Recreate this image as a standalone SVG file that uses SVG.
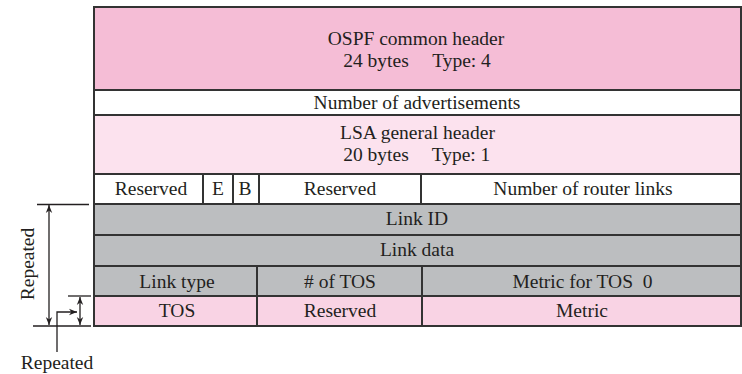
<svg xmlns="http://www.w3.org/2000/svg" width="742" height="374" viewBox="0 0 742 374">
<style>
text{font-family:"Liberation Serif","Times New Roman",serif;font-size:19.5px;fill:#231f20;text-anchor:middle}
.cell{stroke:#333;stroke-width:2}
.ln{stroke:#231f20;stroke-width:1.3;fill:none}
</style>
<defs>
<marker id="ah" viewBox="0 0 10 10" refX="10" refY="5" markerWidth="8" markerHeight="8" orient="auto-start-reverse" markerUnits="userSpaceOnUse">
<path d="M0,1 L10,5 L0,9 L3,5 Z" fill="#231f20"/>
</marker>
</defs>
<rect width="742" height="374" fill="#fff"/>
<g id="ospf-header">
<rect class="cell" x="94" y="7" width="647" height="83" fill="#f5bdd6"/>
<text x="416" y="44.5">OSPF common header</text>
<text x="376" y="66.5">24 bytes</text>
<text x="461.5" y="66.5">Type: 4</text>
</g>
<g id="num-adv">
<rect class="cell" x="94" y="90" width="647" height="25" fill="#fff"/>
<text x="417" y="109">Number of advertisements</text>
</g>
<g id="lsa-header">
<rect class="cell" x="94" y="115" width="647" height="59" fill="#fce2ee"/>
<text x="417.5" y="139">LSA general header</text>
<text x="376" y="161">20 bytes</text>
<text x="461" y="161">Type: 1</text>
</g>
<g id="row-flags">
<rect class="cell" x="94" y="174" width="109" height="30" fill="#fff"/>
<rect class="cell" x="203" y="174" width="30" height="30" fill="#fff"/>
<rect class="cell" x="233" y="174" width="26" height="30" fill="#fff"/>
<rect class="cell" x="259" y="174" width="162" height="30" fill="#fff"/>
<rect class="cell" x="421" y="174" width="320" height="30" fill="#fff"/>
<text x="151" y="195">Reserved</text>
<text x="218" y="195">E</text>
<text x="245" y="195">B</text>
<text x="340" y="195">Reserved</text>
<text x="583" y="195">Number of router links</text>
</g>
<g id="link-id">
<rect class="cell" x="94" y="204" width="647" height="31" fill="#bcbec0"/>
<text x="417" y="225">Link ID</text>
</g>
<g id="link-data">
<rect class="cell" x="94" y="235" width="647" height="31" fill="#bcbec0"/>
<text x="417" y="256">Link data</text>
</g>
<g id="row-linktype">
<rect class="cell" x="94" y="266" width="163" height="30" fill="#bcbec0"/>
<rect class="cell" x="257" y="266" width="165" height="30" fill="#bcbec0"/>
<rect class="cell" x="422" y="266" width="319" height="30" fill="#bcbec0"/>
<text x="177" y="288">Link type</text>
<text x="340" y="288"># of TOS</text>
<text x="582.5" y="288" xml:space="preserve">Metric for TOS  0</text>
</g>
<g id="row-tos">
<rect class="cell" x="94" y="296" width="163" height="30" fill="#f9d3e4"/>
<rect class="cell" x="257" y="296" width="165" height="30" fill="#f9d3e4"/>
<rect class="cell" x="422" y="296" width="319" height="30" fill="#f9d3e4"/>
<text x="177" y="317">TOS</text>
<text x="340" y="317">Reserved</text>
<text x="582" y="317">Metric</text>
</g>
<g id="connectors">
<line class="ln" x1="37" y1="204.5" x2="89" y2="204.5"/>
<line class="ln" x1="33" y1="326" x2="91" y2="326"/>
<line class="ln" x1="68" y1="296" x2="91" y2="296"/>
<line class="ln" x1="49" y1="205" x2="49" y2="325" marker-start="url(#ah)" marker-end="url(#ah)"/>
<line class="ln" x1="80" y1="297" x2="80" y2="325" marker-start="url(#ah)" marker-end="url(#ah)"/>
<polyline class="ln" points="57,352 57,312 77,312" marker-end="url(#ah)"/>
</g>
<g id="labels">
<text x="0" y="0" transform="translate(34,264) rotate(-90)">Repeated</text>
<text x="57" y="369">Repeated</text>
</g>
</svg>
